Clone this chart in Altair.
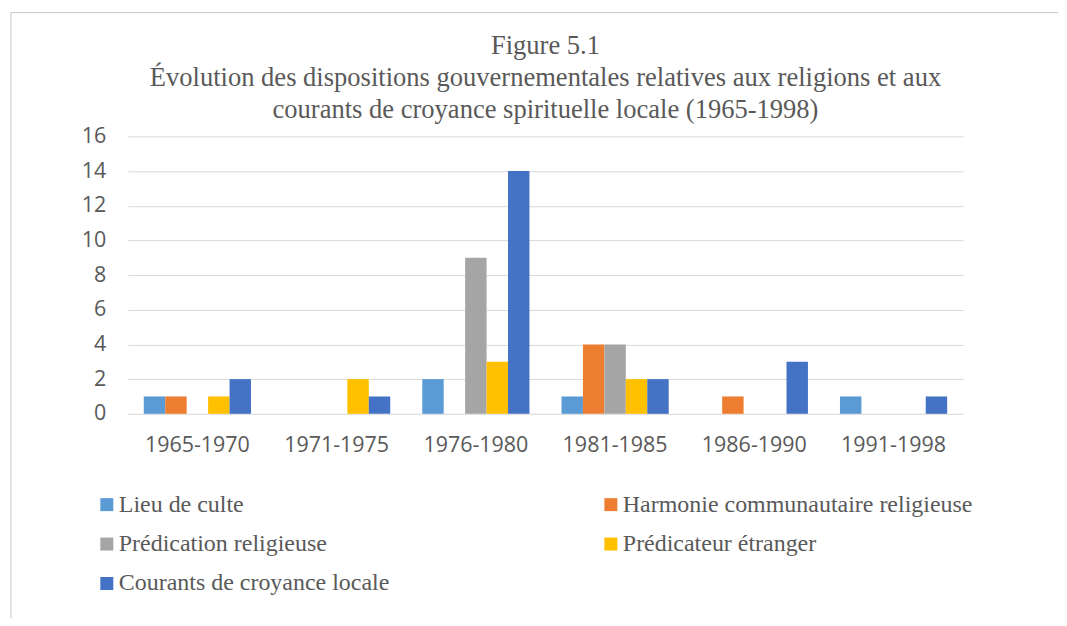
import altair as alt
import pandas as pd

periods = ["1965-1970", "1971-1975", "1976-1980", "1981-1985", "1986-1990", "1991-1998"]
series = [
    "Lieu de culte",
    "Harmonie communautaire religieuse",
    "Prédication religieuse",
    "Prédicateur étranger",
    "Courants de croyance locale",
]
colors = ["#5B9BD5", "#ED7D31", "#A5A5A5", "#FFC000", "#4472C4"]
lieu = [1, 0, 2, 1, 0, 1]
harmonie = [1, 0, 0, 4, 1, 0]
predication = [0, 0, 9, 4, 0, 0]
predicateur = [1, 2, 3, 2, 0, 0]
courants = [2, 1, 14, 2, 3, 1]
y_ticks = [0, 2, 4, 6, 8, 10, 12, 14, 16]
title_lines = [
    "Figure 5.1",
    "Évolution des dispositions gouvernementales relatives aux religions et aux",
    "courants de croyance spirituelle locale (1965-1998)",
]

values = [lieu, harmonie, predication, predicateur, courants]
rows = []
for s, vals in zip(series, values):
    for p, v in zip(periods, vals):
        rows.append({"period": p, "series": s, "value": v})
df = pd.DataFrame(rows)

TEXT = "#595959"
SERIF = "Liberation Serif"
SANS = "Open Sans"

bars = alt.Chart(df).mark_bar().encode(
    x=alt.X(
        "period:N",
        sort=periods,
        title=None,
        scale=alt.Scale(paddingInner=0.23, paddingOuter=0.115),
        axis=alt.Axis(
            labelAngle=0, ticks=False, domain=False, labelFont=SANS,
            labelFontSize=21.5, labelColor=TEXT, labelPadding=21, grid=False,
        ),
    ),
    xOffset=alt.XOffset(
        "series:N", sort=series, scale=alt.Scale(paddingInner=0, paddingOuter=0)
    ),
    y=alt.Y(
        "value:Q",
        title=None,
        scale=alt.Scale(domain=[0, 16], nice=False),
        axis=alt.Axis(
            values=y_ticks, ticks=False, domain=False, labelFont=SANS,
            labelFontSize=21.5, labelColor=TEXT, labelPadding=22,
            gridColor="#D9D9D9", gridWidth=1,
        ),
    ),
    color=alt.Color(
        "series:N",
        sort=series,
        scale=alt.Scale(domain=series, range=colors),
        legend=alt.Legend(
            title=None, orient="none", legendX=-33, legendY=357,
            columns=2, columnPadding=209, rowPadding=15.5, direction="horizontal",
            symbolType="square", symbolSize=169, symbolStrokeWidth=0,
            labelFont=SERIF, labelFontSize=24, labelColor=TEXT,
            labelOffset=0, labelLimit=600,
        ),
    ),
)

frame_df = pd.DataFrame({"a": [0]})
frame_v = alt.Chart(frame_df).mark_rule(color="#C8C8C8", strokeWidth=1).encode(
    x=alt.value(-117), y=alt.value(-124), y2=alt.value(483)
)
frame_h = alt.Chart(frame_df).mark_rule(color="#C8C8C8", strokeWidth=1).encode(
    x=alt.value(-117), x2=alt.value(932), y=alt.value(-124)
)

chart = alt.layer(bars, frame_v, frame_h).properties(
    width=837,
    height=278,
    padding={"left": 2, "top": 3, "right": 0, "bottom": 0},
    title=alt.TitleParams(
        text=title_lines, font=SERIF, fontSize=26.6, fontWeight="normal",
        color=TEXT, lineHeight=32, anchor="middle", offset=-112, frame="group",
    ),
).configure_view(stroke=None)

chart.save("out.html", embed_options={"renderer": "svg", "actions": False})
